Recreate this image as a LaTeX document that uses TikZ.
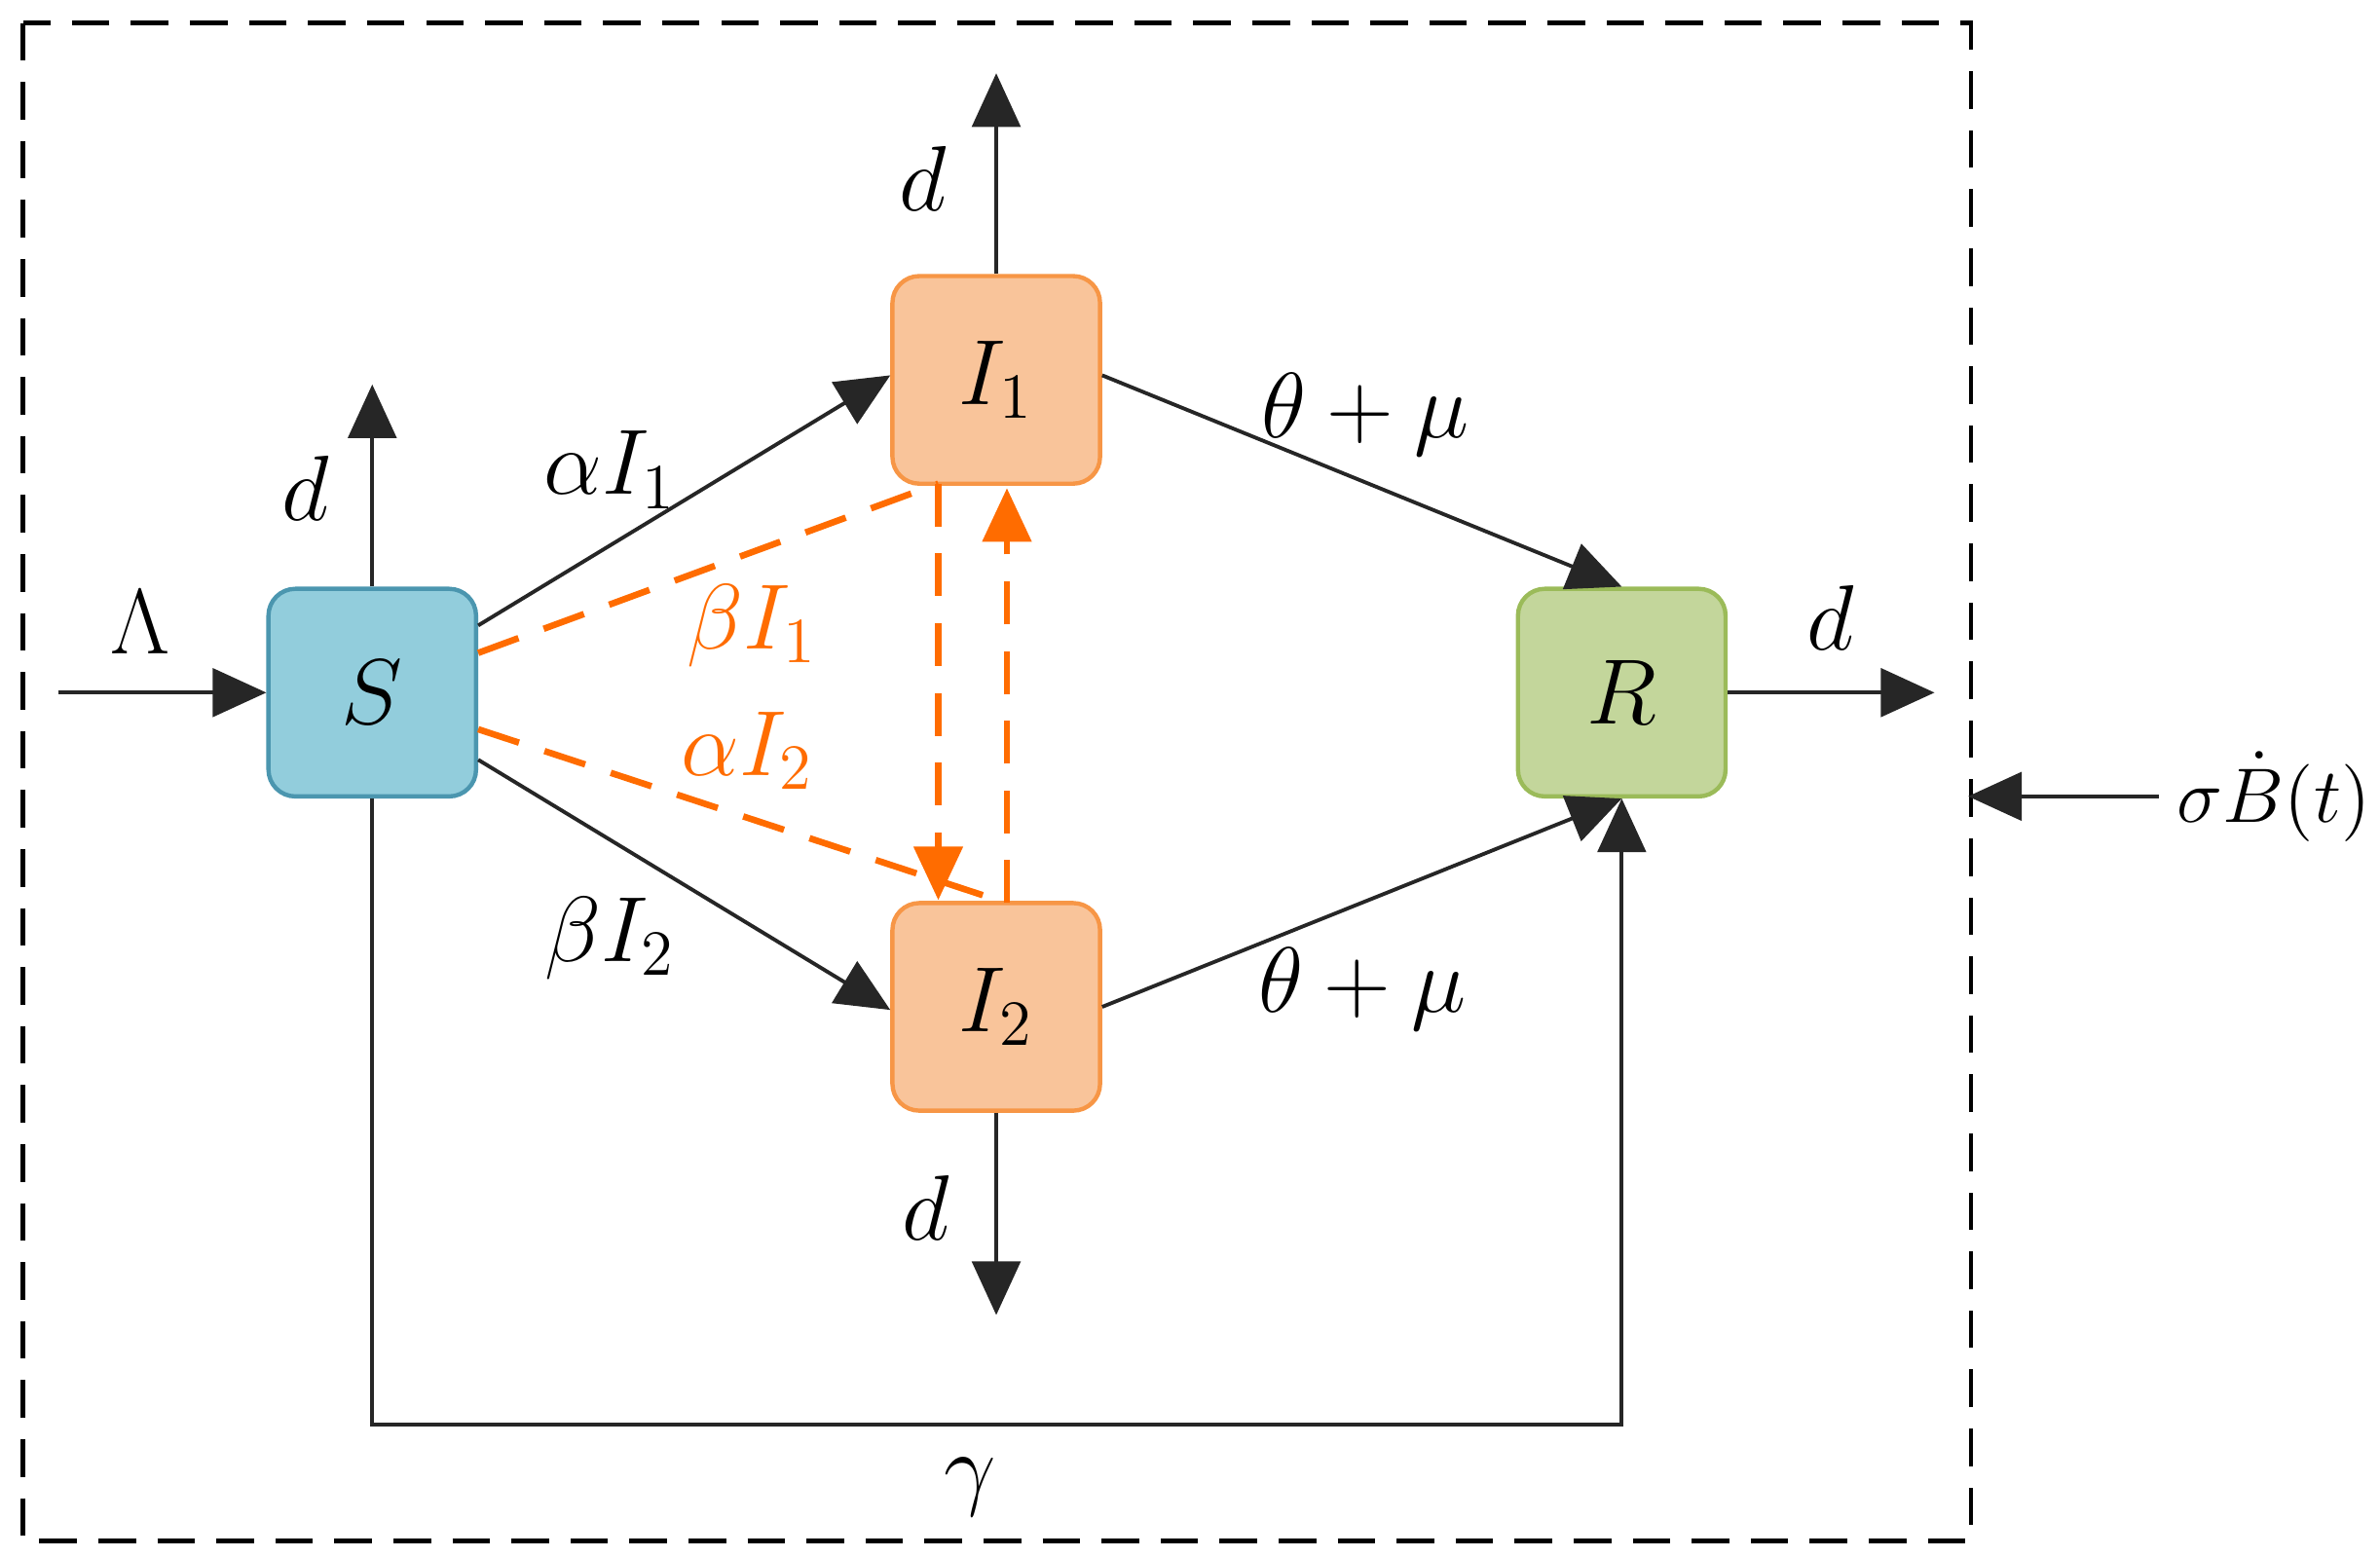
\documentclass[tikz,border=0pt]{standalone}
\usepackage{fontspec}
\setmainfont{Liberation Serif}
\usetikzlibrary{arrows.meta}
\begin{document}
\begin{tikzpicture}[x=0.01cm,y=-0.01cm,
  every node/.style={font=\fontsize{17}{20}\selectfont},
  box/.style={draw,rounded corners=5pt,minimum width=1.36cm,minimum height=1.36cm,line width=0.8pt,inner sep=0pt},
  ar/.style={draw=black!85,line width=0.7pt,-{Triangle[length=10pt,width=9pt]}},
  oar/.style={draw=orange!85!red,line width=1.2pt,dash pattern=on 8pt off 5pt},
  lab/.style={inner sep=1pt}]
\useasboundingbox (0,0) rectangle (1560,1020);
\draw[dashed,line width=0.8pt,dash pattern=on 7pt off 4pt] (15,15) rectangle (1292,1010);
\node[box,fill={rgb,255:red,146;green,205;blue,220},draw={rgb,255:red,75;green,150;blue,175}] (S) at (244,454) {$S$};
\node[box,fill={rgb,255:red,249;green,196;blue,154},draw={rgb,255:red,247;green,150;blue,70}] (I1) at (653,249) {$I_1$};
\node[box,fill={rgb,255:red,249;green,196;blue,154},draw={rgb,255:red,247;green,150;blue,70}] (I2) at (653,660) {$I_2$};
\node[box,fill={rgb,255:red,195;green,214;blue,155},draw={rgb,255:red,155;green,187;blue,89}] (R) at (1063,454) {$R$};
\coordinate (lin) at (38,454);
\coordinate (sup) at (244,252);
\coordinate (i1up) at (653,48);
\coordinate (i2dn) at (653,862);
\coordinate (rout) at (1268,454);
\coordinate (sig) at (1415,522);
\coordinate (sigend) at (1290,522);
\draw[ar] (lin) -- (S.west);
\node[lab] at (92,408) {$\Lambda$};
\draw[ar] (S.north) -- (sup);
\node[lab] at (200,320) {$d$};
\draw[ar] (I1.north) -- (i1up);
\node[lab] at (605,117) {$d$};
\draw[ar] (I2.south) -- (i2dn);
\node[lab] at (607,792) {$d$};
\draw[ar] (R.east) -- (rout);
\node[lab] at (1200,405) {$d$};
\draw[ar] (sig) -- (sigend);
\node[lab,anchor=east,font=\fontsize{15}{18}\selectfont] at (1558,522) {$\sigma\dot{B}(t)$};
\draw[ar] ([yshift=0.44cm]S.east) -- ([yshift=0.03cm]I1.west);
\node[lab] at (400,308) {$\alpha I_1$};
\draw[ar] ([yshift=-0.44cm]S.east) -- ([yshift=-0.02cm]I2.west);
\node[lab] at (400,615) {$\beta I_2$};
\draw[ar] ([yshift=0.03cm]I1.east) -- (R.north);
\node[lab] at (895,272) {$\theta+\mu$};
\draw[ar] (I2.east) -- (R.south);
\node[lab] at (893,648) {$\theta+\mu$};
\coordinate (g1) at (244,934);
\coordinate (g2) at (1063,934);
\draw[ar] (S.south) -- (g1) -- (g2) -- (R.south);
\node[lab] at (636,975) {$\gamma$};
\coordinate (a1) at (615,317);
\coordinate (a2) at (615,590);
\coordinate (b1) at (660,592);
\coordinate (b2) at (660,320);
\draw[oar] ([yshift=0.26cm]S.east) -- (a1);
\draw[oar] ([yshift=-0.24cm]S.east) -- (b1);
\draw[oar,-{Triangle[length=10pt,width=9pt]}] (a1) -- (a2);
\draw[oar,-{Triangle[length=10pt,width=9pt]}] (b1) -- (b2);
\node[lab,text=orange!85!red] at (493,410) {$\beta I_1$};
\node[lab,text=orange!85!red] at (490,492) {$\alpha I_2$};
\end{tikzpicture}
\end{document}
